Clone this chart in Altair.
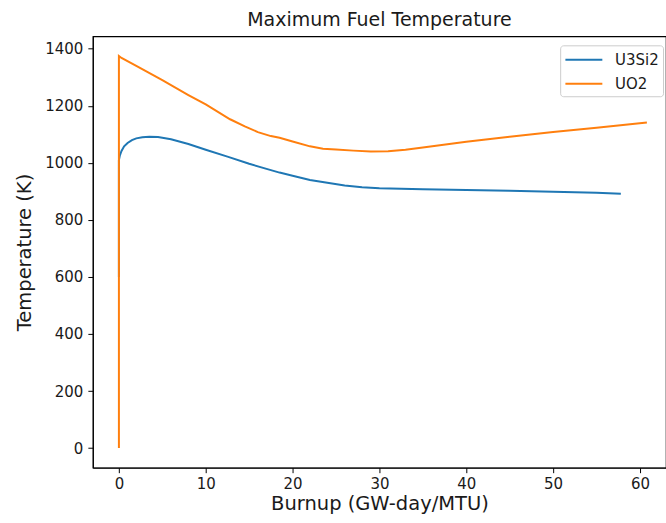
import altair as alt
import pandas as pd

# U3Si2 series
u3si2_x = [0.0, 0.0, 0.1, 0.3, 0.6, 1.0, 1.5, 2.0, 2.7, 3.5, 4.5, 6.0, 8.0, 10.0, 12.5, 15.0, 17.0, 18.5, 20.0, 22.0, 24.0, 26.0, 28.0, 30.0, 35.0, 40.0, 45.0, 50.0, 55.0, 57.8]
u3si2_y = [600, 1010, 1025, 1042, 1058, 1070, 1080, 1086, 1090, 1092, 1091, 1083, 1066, 1046, 1022, 997, 979, 966, 955, 940, 930, 921, 915, 911, 908, 905, 902, 899, 895, 892]

# UO2 series
uo2_x = [0.0, 0.0, 0.3, 2.0, 5.0, 8.0, 10.0, 12.8, 14.5, 16.0, 17.5, 18.5, 20.0, 22.0, 23.5, 25.0, 27.0, 29.0, 31.0, 33.0, 35.0, 40.0, 45.0, 50.0, 55.0, 60.8]
uo2_y = [0, 1375, 1368, 1340, 1290, 1238, 1205, 1153, 1128, 1108, 1094, 1088, 1075, 1058, 1050, 1047, 1043, 1040, 1041, 1046, 1054, 1074, 1092, 1108, 1123, 1142]

series_names = ["U3Si2", "UO2"]
series_colors = ["#1f77b4", "#ff7f0e"]

x_ticks = [0, 10, 20, 30, 40, 50, 60]
y_ticks = [0, 200, 400, 600, 800, 1000, 1200, 1400]

rows = []
for i, (x, y) in enumerate(zip(u3si2_x, u3si2_y)):
    rows.append({"burnup": x, "temp": y, "series": series_names[0], "idx": i})
for i, (x, y) in enumerate(zip(uo2_x, uo2_y)):
    rows.append({"burnup": x, "temp": y, "series": series_names[1], "idx": i})
df = pd.DataFrame(rows)

FONT = "DejaVu Sans"
TXT = "#1a1a1a"

chart = alt.Chart(df).mark_line(strokeWidth=2, clip=True).encode(
    x=alt.X("burnup:Q",
            scale=alt.Scale(domain=[-3, 63], nice=False, zero=False),
            axis=alt.Axis(title="Burnup (GW-day/MTU)", values=x_ticks, grid=False, format="d",
                          tickSize=5, tickColor="black", domainColor="black",
                          labelFontSize=15, titleFontSize=19.5, titleFontWeight="normal",
                          labelColor=TXT, titleColor=TXT, labelPadding=4, titlePadding=3,
                          labelFont=FONT, titleFont=FONT)),
    y=alt.Y("temp:Q",
            scale=alt.Scale(domain=[-68.75, 1443.75], nice=False, zero=False),
            axis=alt.Axis(title="Temperature (K)", values=y_ticks, grid=False, format="d",
                          tickSize=5, tickColor="black", domainColor="black",
                          labelFontSize=15, titleFontSize=19.5, titleFontWeight="normal",
                          labelColor=TXT, titleColor=TXT, labelPadding=5, titlePadding=10,
                          labelFont=FONT, titleFont=FONT)),
    color=alt.Color("series:N",
                    scale=alt.Scale(domain=series_names, range=series_colors),
                    legend=alt.Legend(title=None, orient="none", legendX=468, legendY=9,
                                      symbolType="M-1,0H3", symbolStrokeWidth=2, symbolSize=342,
                                      labelFontSize=15, labelFont=FONT, labelColor=TXT,
                                      strokeColor="#cccccc", fillColor="white", padding=4,
                                      cornerRadius=3, rowPadding=5, labelOffset=30)),
    order=alt.Order("idx:Q"),
).properties(
    width=574,
    height=432,
    title=alt.TitleParams("Maximum Fuel Temperature", fontSize=19, font=FONT,
                          fontWeight="normal", color=TXT, anchor="middle", offset=6),
    autosize=alt.AutoSizeParams(type="none"),
    padding={"left": 93, "top": 36, "right": 0, "bottom": 55},
).configure(background="white").configure_view(stroke="black", strokeWidth=1.2)

chart.save("out.html", embed_options={"renderer": "svg", "actions": False})
